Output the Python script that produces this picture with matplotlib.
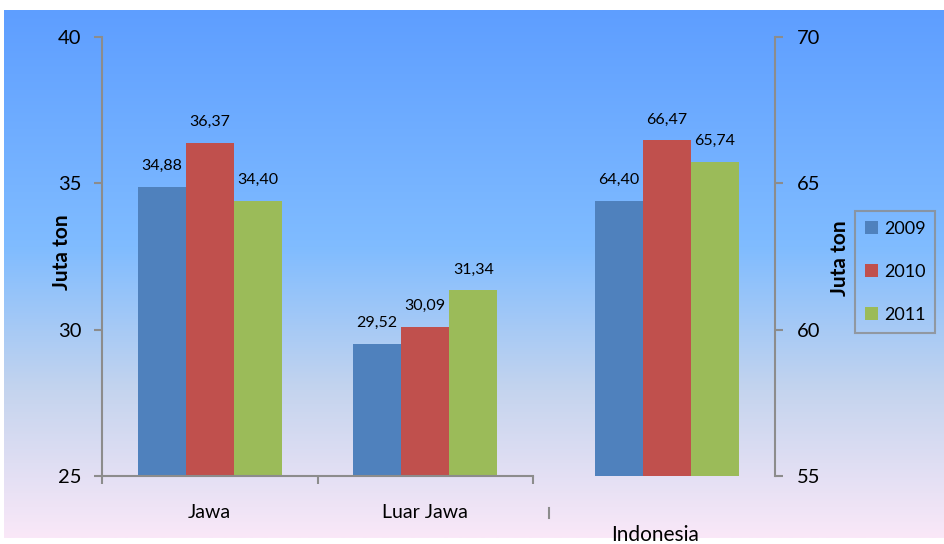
import numpy as np
import matplotlib
matplotlib.use("Agg")
import matplotlib.pyplot as plt
from matplotlib.lines import Line2D
from matplotlib.colors import LinearSegmentedColormap

plt.rcParams['font.family'] = ['Lato', 'DejaVu Sans']

# Data (juta ton)
regions = ["Jawa", "Luar Jawa"]
years = ["2009", "2010", "2011"]
jawa = [34.88, 36.37, 34.40]
luar_jawa = [29.52, 30.09, 31.34]
indonesia = [64.40, 66.47, 65.74]
left_ticks = [25, 30, 35, 40]
right_ticks = [55, 60, 65, 70]

colors = ["#4F81BD", "#C0504D", "#9BBB59"]
axis_gray = "#8C8C8C"

W, H = 944, 544
fig = plt.figure(figsize=(W / 100, H / 100), dpi=100)
fig.patch.set_facecolor("white")

def fx(px):
    return px / W

def fy(py):
    return 1 - py / H

# gradient backdrop
bg = fig.add_axes([fx(4), fy(538), fx(940), (538 - 10) / H], zorder=-5)
grad = LinearSegmentedColormap.from_list(
    "sky",
    [(0.0, (94/255, 158/255, 255/255)),
     (0.45, (128/255, 188/255, 255/255)),
     (0.72, (196/255, 212/255, 238/255)),
     (1.0, (250/255, 232/255, 248/255))])
bg.imshow(np.linspace(0, 1, 256).reshape(-1, 1), aspect="auto", cmap=grad,
          extent=[0, 1, 0, 1])
bg.set_axis_off()

# left axes: Jawa / Luar Jawa
ax1 = fig.add_axes([fx(102), fy(476), (533 - 102) / W, (476 - 37) / H])
ax1.patch.set_alpha(0)
bw = 0.223
x = np.arange(len(regions)) + 0.5
for i, (yr, c) in enumerate(zip(years, colors)):
    vals = [jawa[i], luar_jawa[i]]
    bars = ax1.bar(x + (i - 1) * bw, vals, bw, color=c, label=yr,
                   bottom=0, zorder=2)
    for b, v in zip(bars, vals):
        ax1.annotate(f"{v:.2f}".replace(".", ","),
                     (b.get_x() + b.get_width() / 2, v),
                     xytext=(0, 10), textcoords="offset points",
                     ha="center", va="bottom", fontsize=11.5)
ax1.set_xlim(0, 2)
ax1.set_ylim(25, 40)
ax1.set_yticks(left_ticks)
ax1.set_xticks([0, 1, 2], minor=False)
ax1.set_xticklabels([])
ax1.set_xticks(x, minor=True)
ax1.set_xticklabels(regions, minor=True, fontsize=14)
ax1.tick_params(axis="x", which="minor", length=0, pad=20)
ax1.tick_params(axis="x", which="major", length=6, direction="out",
                color=axis_gray, width=1.5)
ax1.tick_params(axis="y", length=6, direction="out", color=axis_gray,
                width=1.5, labelsize=14.5, pad=9)
for s in ["top", "right"]:
    ax1.spines[s].set_visible(False)
for s in ["left", "bottom"]:
    ax1.spines[s].set_color(axis_gray)
    ax1.spines[s].set_linewidth(1.5)

# right axes: Indonesia
ax2 = fig.add_axes([fx(549), fy(476), (785 - 549) / W, (476 - 37) / H])
ax2.patch.set_alpha(0)
bw2 = 0.203
for i, (v, c) in enumerate(zip(indonesia, colors)):
    xb = 0.5 + (i - 1) * bw2
    ax2.bar([xb], [v], bw2, color=c, zorder=2)
    ax2.annotate(f"{v:.2f}".replace(".", ","), (xb, v),
                 xytext=(0, 10), textcoords="offset points",
                 ha="center", va="bottom", fontsize=11.5)
ax2.set_xlim(0, 1)
ax2.set_ylim(55, 70)
ax2.set_yticks(right_ticks)
ax2.set_xticks([])
for s in ["top", "left", "bottom"]:
    ax2.spines[s].set_visible(False)
ax2.spines["right"].set_position(("axes", (775 - 549) / (785 - 549)))
ax2.spines["right"].set_color(axis_gray)
ax2.spines["right"].set_linewidth(1.5)
ax2.yaxis.tick_right()
ax2.tick_params(axis="y", length=6, direction="out", color=axis_gray,
                width=1.5, labelsize=14.5, pad=10)
ax2.text((655 - 549) / (785 - 549), -59 / 439, "Indonesia",
         transform=ax2.transAxes, ha="center", va="center", fontsize=15)

# small stand-alone tick under the category axis
fig.add_artist(Line2D([fx(549), fx(549)], [fy(508), fy(518)],
                      color=axis_gray, lw=1.5))

# axis titles
fig.text(fx(62.5), fy(252), "Juta ton", rotation=90, ha="center",
         va="center", fontsize=15, fontweight="bold")
fig.text(fx(840.5), fy(258), "Juta ton", rotation=90, ha="center",
         va="center", fontsize=15, fontweight="bold")

# legend
handles, labels = ax1.get_legend_handles_labels()
leg = fig.legend(handles, labels, loc="upper left",
                 bbox_to_anchor=(fx(855), fy(211)),
                 fontsize=13, frameon=True, fancybox=False,
                 handlelength=0.7, handleheight=0.7, handletextpad=0.35,
                 labelspacing=1.5, borderpad=0.55, borderaxespad=0)
leg.get_frame().set_facecolor("none")
leg.get_frame().set_edgecolor(axis_gray)
leg.get_frame().set_linewidth(1.5)

fig.savefig("out.png", dpi=100)
